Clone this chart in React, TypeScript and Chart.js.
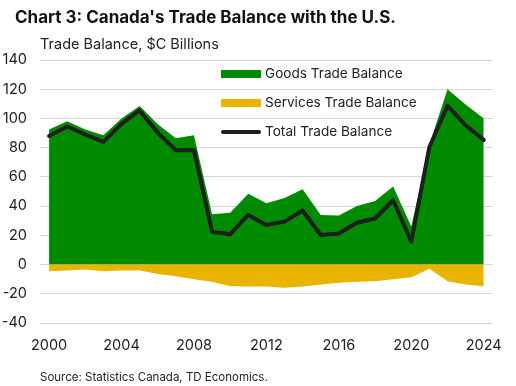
import React, { useEffect, useRef } from "react";
import { Chart, registerables } from "chart.js";

Chart.register(...registerables);

const years = [2000, 2001, 2002, 2003, 2004, 2005, 2006, 2007, 2008, 2009, 2010, 2011, 2012, 2013, 2014, 2015, 2016, 2017, 2018, 2019, 2020, 2021, 2022, 2023, 2024];
const goods = [92.5, 98, 92.5, 88.5, 100, 108.5, 96, 86.5, 88.5, 34.5, 35.5, 48.5, 42, 45.5, 51.5, 34, 33.5, 40, 43.5, 53.5, 26, 82, 120, 109.5, 100];
const services = [-4.6, -4, -3.4, -4.5, -4, -4, -6.4, -8, -10, -11.7, -14.8, -15, -15, -15.8, -15, -13.6, -12.4, -11.7, -11.5, -10, -8.7, -2.8, -11.5, -13.6, -14.9];
const total = [88, 94.5, 89, 84, 96.3, 105.5, 90.3, 78.2, 78.4, 22.5, 20.7, 34, 27.1, 29.4, 37, 20.2, 21.3, 28.6, 31.5, 44, 15.6, 80.5, 108.8, 95.3, 85.3];
const yTicks = [-40, -20, 0, 20, 40, 60, 80, 100, 120, 140];
const xTicks = [2000, 2004, 2008, 2012, 2016, 2020, 2024];

const titleText = "Chart 3: Canada's Trade Balance with the U.S.";
const subtitleText = "Trade Balance, $C Billions";
const sourceText = "Source: Statistics Canada, TD Economics.";
const legendLabels = ["Goods Trade Balance", "Services Trade Balance", "Total Trade Balance"];

const GREEN = "#008a00";
const GOLD = "#e8b400";
const BLACK = "#1e1e1e";
const FONT = "Inter, 'Open Sans', sans-serif";

const textPlugin = {
  id: "customText",
  afterDraw(chart: any) {
    const ctx = chart.ctx;
    ctx.save();
    ctx.textBaseline = "middle";
    ctx.textAlign = "left";
    ctx.fillStyle = "#111";
    ctx.font = `bold 17px ${FONT}`;
    ctx.fillText(titleText, 15, 18);
    ctx.font = `14.5px ${FONT}`;
    ctx.fillStyle = "#222";
    ctx.fillText(subtitleText, 40, 45);
    ctx.font = `11.5px ${FONT}`;
    ctx.fillStyle = "#222";
    ctx.fillText(sourceText, 40, 378);
    ctx.restore();
  },
  afterDatasetsDraw(chart: any) {
    const ctx = chart.ctx;
    ctx.save();
    const rows = [74, 103, 132];
    const x0 = 221;
    const x1 = 261;
    ctx.fillStyle = GREEN;
    ctx.fillRect(x0, rows[0] - 4, x1 - x0, 8);
    ctx.fillStyle = GOLD;
    ctx.fillRect(x0, rows[1] - 4, x1 - x0, 8);
    ctx.strokeStyle = BLACK;
    ctx.lineWidth = 4;
    ctx.lineCap = "round";
    ctx.beginPath();
    ctx.moveTo(x0 + 2, rows[2]);
    ctx.lineTo(x1 - 2, rows[2]);
    ctx.stroke();
    ctx.fillStyle = "#222";
    ctx.font = `13.6px ${FONT}`;
    ctx.textBaseline = "middle";
    ctx.textAlign = "left";
    legendLabels.forEach((t, i) => ctx.fillText(t, 265, rows[i]));
    ctx.restore();
  },
};

export default function App() {
  const ref = useRef<HTMLCanvasElement | null>(null);
  useEffect(() => {
    if (!ref.current) return;
    const mk = (arr: number[]) => years.map((y, i) => ({ x: y, y: arr[i] }));
    const chart = new Chart(ref.current, {
      type: "line",
      data: {
        datasets: [
          {
            label: legendLabels[0],
            data: mk(goods),
            backgroundColor: GREEN,
            borderColor: GREEN,
            borderWidth: 0,
            fill: "origin",
            pointRadius: 0,
            tension: 0,
            order: 3,
          },
          {
            label: legendLabels[1],
            data: mk(services),
            backgroundColor: GOLD,
            borderColor: GOLD,
            borderWidth: 0,
            fill: "origin",
            pointRadius: 0,
            tension: 0,
            order: 2,
          },
          {
            label: legendLabels[2],
            data: mk(total),
            borderColor: BLACK,
            borderWidth: 4,
            fill: false,
            pointRadius: 0,
            tension: 0,
            borderJoinStyle: "round",
            borderCapStyle: "round",
            order: 1,
          },
        ],
      },
      options: {
        animation: false,
        responsive: false,
        maintainAspectRatio: false,
        layout: { padding: { top: 60, right: 14, bottom: 0, left: 0 } },
        plugins: { legend: { display: false }, tooltip: { enabled: false } },
        scales: {
          x: {
            type: "linear",
            min: 1999.5,
            max: 2024.5,
            grid: { display: false, drawTicks: false },
            border: { display: false },
            afterBuildTicks: (s: any) => {
              s.ticks = xTicks.map((v) => ({ value: v }));
            },
            afterFit: (s: any) => {
              s.height = 63;
            },
            ticks: {
              padding: 14,
              maxRotation: 0,
              autoSkip: false,
              color: "#222",
              font: { family: FONT, size: 14.5 },
              callback: (v: any) => String(v),
            },
          },
          y: {
            min: -40,
            max: 140,
            afterBuildTicks: (s: any) => {
              s.ticks = yTicks.map((v) => ({ value: v }));
            },
            afterFit: (s: any) => {
              s.width = 40;
            },
            grid: { color: "#d6d6d6", lineWidth: 1, drawTicks: false },
            border: { display: false },
            ticks: {
              padding: 13,
              color: "#222",
              font: { family: FONT, size: 14.5 },
              callback: (v: any) => String(v),
            },
          },
        },
      },
      plugins: [textPlugin],
    } as any);
    return () => chart.destroy();
  }, []);
  return (
    <div style={{ position: "fixed", left: 0, top: 0, width: 516, height: 386, background: "#fff" }}>
      <canvas ref={ref} width={516} height={386} style={{ width: 516, height: 386, display: "block" }} />
    </div>
  );
}
